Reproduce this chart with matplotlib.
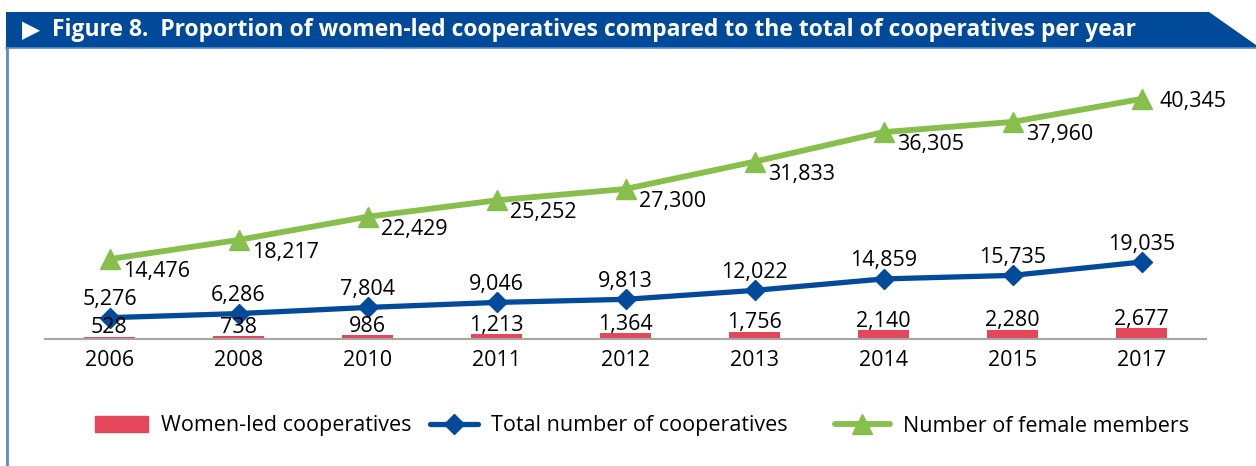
import matplotlib.pyplot as plt
from matplotlib.patches import Polygon
from matplotlib.lines import Line2D

plt.rcParams['font.family'] = ['Open Sans', 'Noto Sans', 'DejaVu Sans']

years = ['2006', '2008', '2010', '2011', '2012', '2013', '2014', '2015', '2017']
women_led = [528, 738, 986, 1213, 1364, 1756, 2140, 2280, 2677]
total_coops = [5276, 6286, 7804, 9046, 9813, 12022, 14859, 15735, 19035]
female_members = [14476, 18217, 22429, 25252, 27300, 31833, 36305, 37960, 40345]
series_names = ['Women-led cooperatives', 'Total number of cooperatives',
                'Number of female members']

RED = '#e5475a'
BLUE = '#034a9b'
GREEN = '#86bf4b'
W, H = 1256, 466
FS = 15.5

fig = plt.figure(figsize=(W / 100, H / 100), dpi=100)

# banner + frame (figure pixel coords -> fraction)
def fp(x, y):
    return (x / W, 1 - y / H)

banner = Polygon([fp(6, 12), fp(1209, 12), fp(1256, 45), fp(1256, 48), fp(6, 48)],
                 closed=True, transform=fig.transFigure, facecolor='#014a9a',
                 edgecolor='none')
fig.patches.append(banner)
fig.add_artist(Line2D([6 / W, 1], [1 - 48.5 / H] * 2, transform=fig.transFigure,
                      color='#5b8bc9', lw=1.2))
fig.add_artist(Line2D([7 / W, 7 / W], [0, 1 - 48 / H], transform=fig.transFigure,
                      color='#5b8bc9', lw=2))
fig.text(22 / W, 1 - 30 / H, '\u25b6', color='white', fontsize=17, va='center',
         family=['DejaVu Sans'])
fig.text(52 / W, 1 - 30 / H,
         'Figure 8.  Proportion of women-led cooperatives compared to the total of cooperatives per year',
         color='white', fontsize=16.5, fontweight='bold', va='center')

ax = fig.add_axes([45 / W, 127 / H, 1161 / W, 283 / H])
x = list(range(len(years)))

ax.bar(x, women_led, width=0.4, color=RED, zorder=2)
ax.plot(x, total_coops, color=BLUE, lw=3.8, marker='D', markersize=10,
        solid_capstyle='round', zorder=3)
# stacked line: female members drawn on top of the total
stacked = [t + f for t, f in zip(total_coops, female_members)]
ax.plot(x, stacked, color=GREEN, lw=4.2, marker='^', markersize=15,
        solid_capstyle='round', zorder=3)

for i in x:
    ax.annotate(f'{women_led[i]:,}', (i, women_led[i]), xytext=(0, 2.5),
                textcoords='offset points', ha='center', va='baseline', fontsize=FS)
    ax.annotate(f'{total_coops[i]:,}', (i, total_coops[i]), xytext=(0, 9),
                textcoords='offset points', ha='center', va='baseline', fontsize=FS)
    off = (13, -6) if i == len(years) - 1 else (10, -13)
    ax.annotate(f'{female_members[i]:,}', (i, stacked[i]), xytext=off,
                textcoords='offset points', ha='left', va='baseline', fontsize=FS)

ax.set_xlim(-0.5, len(years) - 0.5)
ax.set_ylim(0, 70000)
ax.set_xticks(x)
ax.set_xticklabels(years, fontsize=FS)
ax.tick_params(axis='x', length=0, pad=8)
ax.set_yticks([])
for s in ['top', 'right', 'left']:
    ax.spines[s].set_visible(False)
ax.spines['bottom'].set_color('#a6a6a6')
ax.spines['bottom'].set_linewidth(1.5)

handles = [
    plt.Rectangle((0, 0), 1, 1, color=RED),
    Line2D([], [], color=BLUE, lw=3.8, marker='D', markersize=10, solid_capstyle='round'),
    Line2D([], [], color=GREEN, lw=4.2, marker='^', markersize=15, solid_capstyle='round'),
]
# one legend per entry, placed where the reference puts each key
for h, name, left, hl in zip(handles, series_names, [95, 430, 835], [2.45, 2.25, 2.55]):
    fig.legend([h], [name], loc='center left', bbox_to_anchor=(left / W, 40 / H),
               frameon=False, fontsize=FS, handlelength=hl, handleheight=0.7,
               handletextpad=0.6, borderpad=0, borderaxespad=0)

fig.savefig('out.png', dpi=100)
